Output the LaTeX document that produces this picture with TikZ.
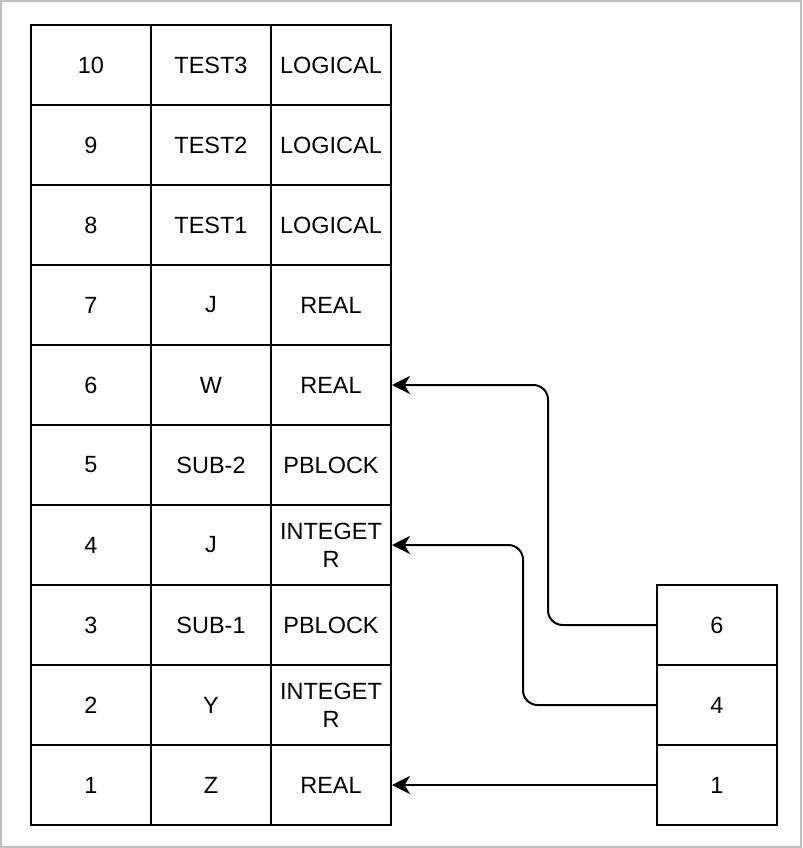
\documentclass[tikz,border=0pt]{standalone}
\usepackage{fontspec}
\setmainfont{Liberation Sans}
\usetikzlibrary{arrows.meta}
\begin{document}
\begin{tikzpicture}[x=0.75pt,y=-0.75pt,
  cell/.style={draw,line width=1.5pt,minimum width=120*0.75pt,minimum height=80*0.75pt,inner sep=0pt,align=center,font=\fontsize{17.6}{21}\selectfont},
  arr/.style={line width=1.5pt,rounded corners=11pt,-{Stealth[length=13.5pt,width=13.5pt,inset=4pt]}}]
\useasboundingbox (0,0) rectangle (802,848);
\draw[line width=1.5pt,color={rgb,255:red,192;green,192;blue,192}] (1,1) rectangle (801,847);
% table
\foreach \k/\nm/\ty in {10/TEST3/LOGICAL,9/TEST2/LOGICAL,8/TEST1/LOGICAL,7/J/REAL,6/W/REAL,5/SUB-2/PBLOCK,4/J/{INTEGET\\R},3/SUB-1/PBLOCK,2/Y/{INTEGET\\R},1/Z/REAL}{
  \node[cell] (n\k) at (91,{65+(10-\k)*80}) {\k};
  \node[cell] (m\k) at (211,{65+(10-\k)*80}) {\nm};
  \node[cell] (t\k) at (331,{65+(10-\k)*80}) {\ty};
}
\node[cell] (r6) at (717,625) {6};
\node[cell] (r4) at (717,705) {4};
\node[cell] (r1) at (717,785) {1};
\draw[arr] (r6.west) -- ++(-108,0) |- (t6.east);
\draw[arr] (r4.west) -- ++(-133,0) |- (t4.east);
\draw[arr] (r1.west) -- (t1.east);
\end{tikzpicture}
\end{document}
